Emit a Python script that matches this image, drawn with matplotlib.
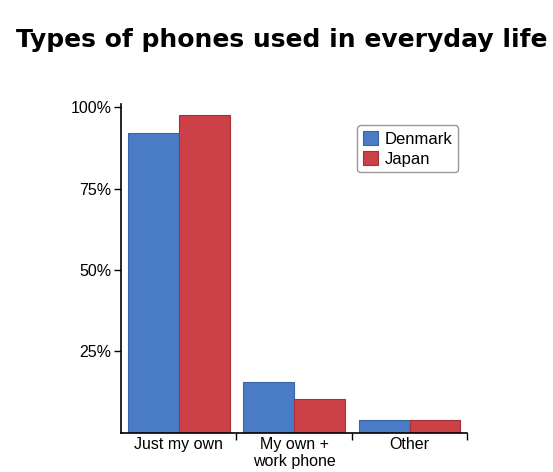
import numpy as np
import matplotlib.pyplot as plt
from matplotlib.ticker import FixedLocator

categories = ["Just my own", "My own +\nwork phone", "Other"]
denmark = [92, 15.5, 4]
japan = [97.5, 10.5, 4]
yticks = [25, 50, 75, 100]
ytick_labels = ["25%", "50%", "75%", "100%"]

blue = "#4a7cc6"
red = "#cc4048"

fig = plt.figure(figsize=(5.53, 4.72), dpi=100)
ax = fig.add_axes([0.219, 0.083, 0.626, 0.697])

x = np.arange(len(categories))
w = 0.44
ax.bar(x - w / 2, denmark, w, color=blue, edgecolor="#3a62a8", linewidth=0.8, label="Denmark")
ax.bar(x + w / 2, japan, w, color=red, edgecolor="#a83038", linewidth=0.8, label="Japan")

ax.set_xlim(-0.5, len(categories) - 0.5)
ax.set_ylim(0, 101)

ax.set_yticks(yticks)
ax.set_yticklabels(ytick_labels, fontsize=11.5, family="Liberation Sans")
ax.set_xticks(x)
ax.set_xticklabels(categories, fontsize=11.5, family="Liberation Sans", linespacing=1.15)
ax.xaxis.set_minor_locator(FixedLocator([0.5, 1.5, 2.5]))
ax.tick_params(axis="x", which="major", length=0, pad=3)
ax.tick_params(axis="x", which="minor", length=5, width=1, direction="out")
ax.tick_params(axis="y", length=5, width=1, direction="out", pad=2)

for side in ("top", "right"):
    ax.spines[side].set_visible(False)
for side in ("left", "bottom"):
    ax.spines[side].set_linewidth(1.2)

leg = ax.legend(loc="upper right", bbox_to_anchor=(0.998, 0.96), prop={"family": "Liberation Sans", "size": 12},
                handlelength=0.9, handleheight=0.9, handletextpad=0.4, borderpad=0.35,
                labelspacing=0.25, fancybox=True, framealpha=1)
leg.get_frame().set_edgecolor("#999999")

fig.text(0.51, 0.915, "Types of phones used in everyday life", ha="center", va="center",
         fontsize=18, fontweight="bold", family="DejaVu Sans")

fig.savefig("out.png", dpi=100)
